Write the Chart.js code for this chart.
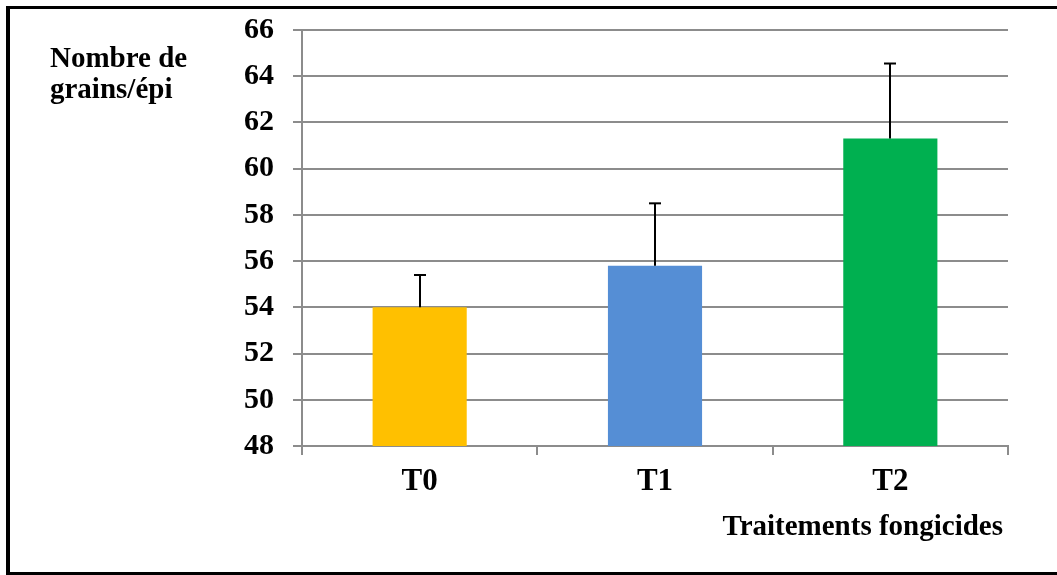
<!DOCTYPE html>
<html>
<head>
<meta charset="utf-8">
<script src="https://cdn.jsdelivr.net/npm/chart.js@4"></script>
<style>
  html, body { margin: 0; padding: 0; background: #fff; }
  #wrap { width: 1057px; height: 575px; position: relative; }
</style>
</head>
<body>
<div id="wrap"><canvas id="c" width="1057" height="575"></canvas></div>
<script>
// ---- data ----
const categories = ['T0', 'T1', 'T2'];
const grainsPerEar = [54.0, 55.8, 61.3];
const errorPlus = [1.4, 2.7, 3.25];
const yTickMin = 48;
const yTickMax = 66;
const yTickStep = 2;
const yTitleLines = ['Nombre de', 'grains/épi'];
const xTitle = 'Traitements fongicides';

// ---- styles ----
const barColors = ['#FFC000', '#558ED5', '#00B050'];
const gridColor = '#8c8c8c';
const serif = '"Liberation Serif", "Times New Roman", serif';

const errorBarPlugin = {
  id: 'errorBars',
  afterDatasetsDraw(chart) {
    const ctx = chart.ctx;
    const yScale = chart.scales.y;
    const meta = chart.getDatasetMeta(0);
    ctx.save();
    ctx.strokeStyle = '#000';
    ctx.lineWidth = 2;
    meta.data.forEach((bar, i) => {
      const v = chart.data.datasets[0].data[i];
      const yTop = yScale.getPixelForValue(v + errorPlus[i]);
      const x = Math.round(bar.x) ;
      ctx.beginPath();
      ctx.moveTo(x, bar.y);
      ctx.lineTo(x, yTop);
      ctx.stroke();
      ctx.beginPath();
      ctx.moveTo(x - 6, yTop);
      ctx.lineTo(x + 6, yTop);
      ctx.stroke();
    });
    ctx.restore();
  }
};

const decorPlugin = {
  id: 'decor',
  afterDraw(chart) {
    const ctx = chart.ctx;
    ctx.save();
    // outer frame
    ctx.fillStyle = '#000';
    ctx.fillRect(6, 6, 1057 - 6, 3);
    ctx.fillRect(6, 6, 4, 575 - 6);
    ctx.fillRect(6, 572, 1057 - 6, 3);
    // titles
    ctx.font = 'bold 29px ' + serif;
    ctx.textBaseline = 'alphabetic';
    ctx.textAlign = 'left';
    ctx.fillText(yTitleLines[0], 50, 67);
    ctx.fillText(yTitleLines[1], 50, 98);
    ctx.textAlign = 'right';
    ctx.fillText(xTitle, 1003, 535);
    ctx.restore();
  }
};

new Chart(document.getElementById('c'), {
  type: 'bar',
  data: {
    labels: categories,
    datasets: [{
      data: grainsPerEar,
      backgroundColor: barColors,
      borderWidth: 0,
      barPercentage: 0.4,
      categoryPercentage: 1.0
    }]
  },
  options: {
    responsive: false,
    animation: false,
    layout: { padding: { left: 0, top: 30, right: 49, bottom: 0 } },
    plugins: {
      legend: { display: false },
      tooltip: { enabled: false },
      title: { display: false }
    },
    scales: {
      x: {
        offset: true,
        grid: {
          display: true,
          offset: true,
          drawOnChartArea: false,
          drawTicks: true,
          tickLength: 9,
          color: gridColor,
          lineWidth: 2
        },
        border: { display: true, color: gridColor, width: 2 },
        ticks: {
          color: '#000',
          padding: 8,
          font: { family: serif, size: 31, weight: 'bold', lineHeight: 1.2 }
        },
        afterFit(scale) { scale.height = 129; scale.paddingLeft = 0; scale.paddingRight = 0; }
      },
      y: {
        min: yTickMin,
        max: yTickMax,
        ticks: {
          stepSize: yTickStep,
          color: '#000',
          padding: 19,
          font: { family: serif, size: 30, weight: 'bold' }
        },
        grid: {
          color: gridColor,
          lineWidth: 2,
          tickLength: 9,
          drawTicks: true
        },
        border: { display: true, color: gridColor, width: 2 },
        afterFit(scale) { scale.width = 302; scale.paddingTop = 0; scale.paddingBottom = 0; }
      }
    }
  },
  plugins: [errorBarPlugin, decorPlugin]
});
</script>
</body>
</html>
